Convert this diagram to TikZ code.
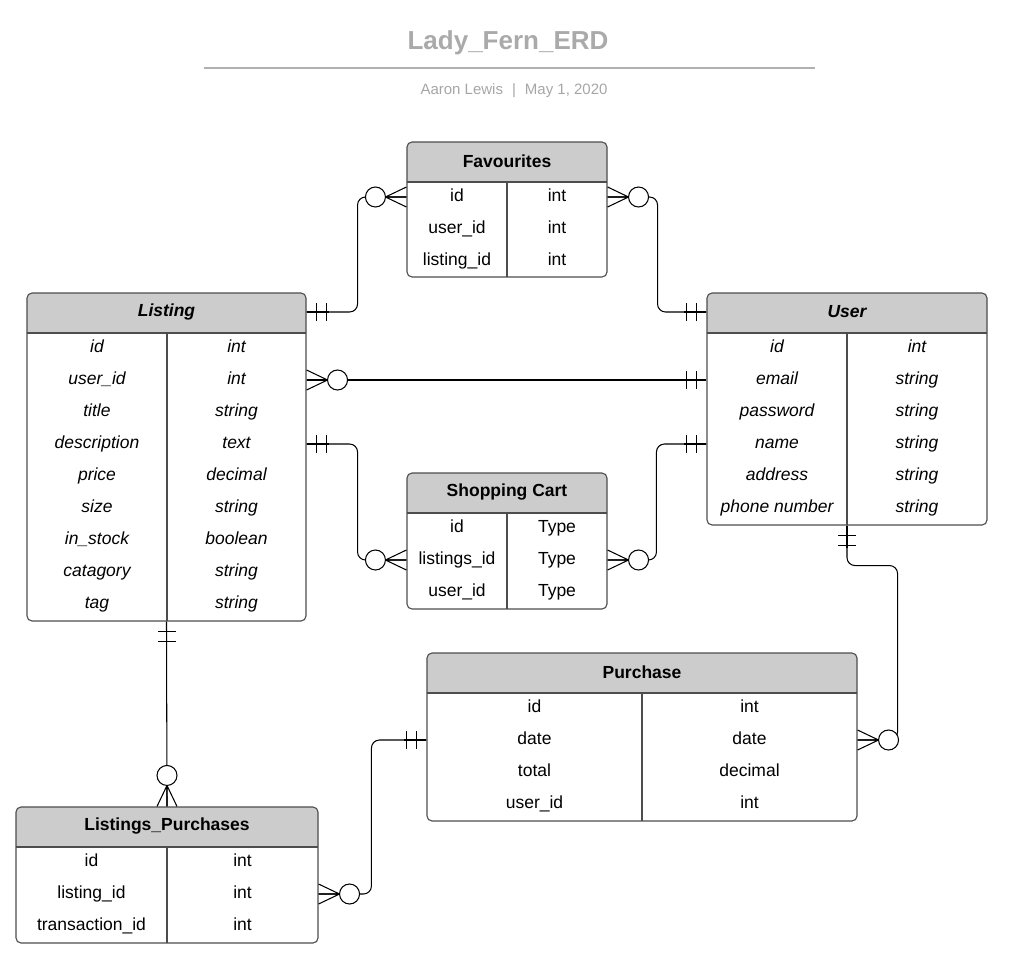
\documentclass[tikz,border=0pt]{standalone}
\usepackage{fontspec}
\setmainfont{Liberation Sans}
\usetikzlibrary{fit,calc}

\definecolor{hdrgray}{HTML}{CCCCCC}
\definecolor{titlegray}{HTML}{AAAAAA}
\definecolor{subgray}{HTML}{A6A6A6}
\definecolor{linegray}{HTML}{B0B0B0}
\definecolor{boxline}{HTML}{4D4D4D}

\tikzset{
  tablebox/.style={draw=boxline,line width=1.1pt,rounded corners=5pt,inner sep=0pt},
  hdrtext/.style={font=\fontsize{17.5}{20}\selectfont\bfseries},
  rowtext/.style={font=\fontsize{17.5}{20}\selectfont,text height=12.5pt,text depth=3.5pt,inner sep=0pt},
  rel/.style={draw=black,line width=1.05pt},
  onlyone/.pic={\draw[rel] (0,0) -- (22,0);
    \draw[rel] (10,-9) -- (10,9);
    \draw[rel] (20,-9) -- (20,9);},
  zeromany/.pic={\draw[rel] (21,0) -- (0,-10) (21,0) -- (0,0) (21,0) -- (0,10);
    \draw[rel,fill=white] (31,0) circle (10);}
}

% #1 name, #2 font, #3 left, #4 top, #5 right, #6 divider, #7 bottom, #8 title, #9 rows
\newcommand{\erdtable}[9]{%
  \fill[hdrgray] ({#3},{#4+40}) [rounded corners=5pt] -- ({#3},{#4}) -- ({#5},{#4}) [sharp corners] -- ({#5},{#4+40}) -- cycle;
  \draw[boxline,line width=1.1pt] ({#3},{#4+40}) -- ({#5},{#4+40});
  \draw[boxline,line width=1.1pt] ({#6},{#4+40}) -- ({#6},{#7});
  \node[tablebox,fit={({#3},{#4}) ({#5},{#7})}] (#1) {};
  \node[hdrtext] (#1-t) at ({(#3+#5)/2},{#4+19}) {#2#8};
  \foreach \a/\b [count=\i] in {#9} {
    \node[rowtext] (#1-r\i) at ({(#3+#6)/2},{#4+23+32*\i}) {#2\a};
    \node[rowtext] (#1-s\i) at ({(#6+#5)/2},{#4+23+32*\i}) {#2\b};
  }
}

\begin{document}
\begin{tikzpicture}[x=1pt,y=-1pt]
    \useasboundingbox (0,0) rectangle (1016,971);

    \node[font=\fontsize{26}{30}\selectfont\bfseries,text=titlegray] (title) at (508,43) {Lady\_Fern\_ERD};
    \draw[linegray,line width=2pt] (204,68) -- (815,68);
    \node[font=\fontsize{15}{18}\selectfont,text=subgray] (byline) at (514,91) {Aaron Lewis\hspace{9pt}|\hspace{9pt}May 1, 2020};

    \erdtable{fav}{}{407}{142}{607}{507}{277}{Favourites}{id/int, user\_id/int, listing\_id/int}
    \erdtable{listing}{\itshape}{27}{293}{306}{167}{621}{Listing}{id/int, user\_id/int, title/string, description/text, price/decimal, size/string, in\_stock/boolean, catagory/string, tag/string}
    \erdtable{user}{\itshape}{707}{293}{987}{847}{525}{User}{id/int, email/string, password/string, name/string, address/string, phone number/string}
    \erdtable{sc}{}{407}{473}{607}{507}{609}{Shopping Cart}{id/Type, listings\_id/Type, user\_id/Type}
    \erdtable{pur}{}{427}{653}{857}{642}{821}{Purchase}{id/int, date/date, total/decimal, user\_id/int}
    \erdtable{lp}{}{16}{807}{318}{167}{943}{Listings\_Purchases}{id/int, listing\_id/int, transaction\_id/int}

    %relations
    \draw[rel,rounded corners=8pt] (listing.east |- listing-t) -- ++(51,0) |- (fav.west |- fav-r1);
    \draw[rel,rounded corners=8pt] (fav.east |- fav-r1) -- ++(50,0) |- (user.west |- user-t);
    \draw[rel] (listing.east |- listing-r2) -- (user.west |- user-r2);
    \draw[rel,rounded corners=8pt] (listing.east |- listing-r4) -- ++(51,0) |- (sc.west |- sc-r2);
    \draw[rel,rounded corners=8pt] (user.west |- user-r4) -- ++(-50,0) |- (sc.east |- sc-r2);
    \draw[rel,rounded corners=8pt] (user.south) -- ++(0,40) -| ($(pur.east |- pur-r2)+(40,0)$) -- (pur.east |- pur-r2);
    \draw[rel] (listing.south) -- (lp.north);
    \draw[rel,rounded corners=8pt] (pur.west |- pur-r2) -- ++(-55,0) |- (lp.east |- lp-r2);

    \pic at (listing.east |- listing-t) {onlyone};
    \pic[rotate=180] at (fav.west |- fav-r1) {zeromany};
    \pic at (fav.east |- fav-r1) {zeromany};
    \pic[rotate=180] at (user.west |- user-t) {onlyone};
    \pic at (listing.east |- listing-r2) {zeromany};
    \pic[rotate=180] at (user.west |- user-r2) {onlyone};
    \pic at (listing.east |- listing-r4) {onlyone};
    \pic[rotate=180] at (sc.west |- sc-r2) {zeromany};
    \pic[rotate=180] at (user.west |- user-r4) {onlyone};
    \pic at (sc.east |- sc-r2) {zeromany};
    \pic[rotate=-90] at (user.south) {onlyone};
    \pic at (pur.east |- pur-r2) {zeromany};
    \pic[rotate=-90] at (listing.south) {onlyone};
    \pic[rotate=90] at (lp.north) {zeromany};
    \pic[rotate=180] at (pur.west |- pur-r2) {onlyone};
    \pic at (lp.east |- lp-r2) {zeromany};
\end{tikzpicture}
\end{document}
